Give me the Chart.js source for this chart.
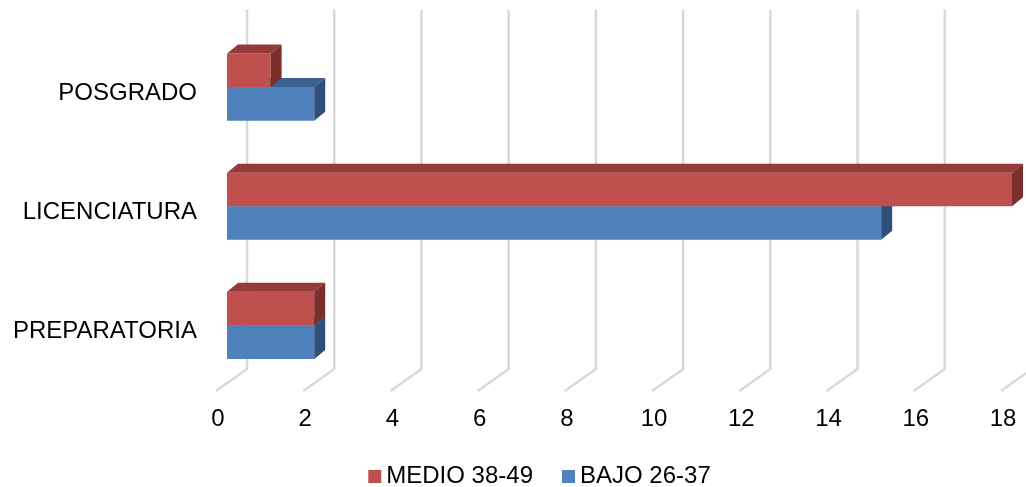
<!DOCTYPE html>
<html>
<head>
<meta charset="utf-8">
<script src="https://cdn.jsdelivr.net/npm/chart.js@4/dist/chart.umd.min.js"></script>
<style>
  html, body { margin: 0; padding: 0; background: #ffffff; }
  canvas { display: block; }
</style>
</head>
<body>
<canvas id="chart" width="1026" height="487"></canvas>
<script>
// Education level by age group
const categories = ['POSGRADO', 'LICENCIATURA', 'PREPARATORIA'];
const seriesNames = ['MEDIO 38-49', 'BAJO 26-37'];
const medioValues = [1, 18, 2];
const bajoValues = [2, 15, 2];
const xMin = 0;
const xMax = 18;
const xStep = 2;

const FONT = "'Liberation Sans', Arial, sans-serif";

// Depth of the extruded bar faces and of the floor grid
const BAR_DX = 11, BAR_DY = -9;
const WALL_DX = 20;     // back wall offset from the front plane
const FLOOR_DX = -31;   // slant of the floor lines towards the viewer
const FLOOR_DY = 22;

// Back-wall grid lines with the slanted floor segment
const grid3d = {
  id: 'grid3d',
  beforeDatasetsDraw(chart) {
    const { ctx, chartArea, scales } = chart;
    const xs = scales.x;
    ctx.save();
    ctx.strokeStyle = '#d9d9d9';
    ctx.lineWidth = 2.5;
    ctx.lineJoin = 'round';
    for (let v = xMin; v <= xMax; v += xStep) {
      const bx = xs.getPixelForValue(v) + WALL_DX;
      const yTop = chartArea.top - 18;
      const yBottom = chartArea.bottom - 16;
      ctx.beginPath();
      ctx.moveTo(bx, yTop);
      ctx.lineTo(bx, yBottom);
      ctx.lineTo(bx + FLOOR_DX, yBottom + FLOOR_DY);
      ctx.stroke();
    }
    ctx.restore();
  }
};

// Top and side faces for each bar
const bars3d = {
  id: 'bars3d',
  afterDatasetDraw(chart, args) {
    const { ctx } = chart;
    const ds = chart.data.datasets[args.index];
    ctx.save();
    args.meta.data.forEach(bar => {
      const { x, y, base, height } = bar.getProps(['x', 'y', 'base', 'height'], true);
      const top = y - height / 2;
      const bottom = y + height / 2;
      ctx.fillStyle = ds.topColor;
      ctx.beginPath();
      ctx.moveTo(base, top);
      ctx.lineTo(x, top);
      ctx.lineTo(x + BAR_DX, top + BAR_DY);
      ctx.lineTo(base + BAR_DX, top + BAR_DY);
      ctx.closePath();
      ctx.fill();
      ctx.fillStyle = ds.sideColor;
      ctx.beginPath();
      ctx.moveTo(x, top);
      ctx.lineTo(x + BAR_DX, top + BAR_DY);
      ctx.lineTo(x + BAR_DX, bottom + BAR_DY);
      ctx.lineTo(x, bottom);
      ctx.closePath();
      ctx.fill();
    });
    ctx.restore();
  }
};

// Legend row under the axis: small square swatch, tight gap, then the series name
const legendRow = {
  id: 'legendRow',
  afterDraw(chart) {
    const { ctx } = chart;
    const box = 13, textGap = 5, itemGap = 29;
    const centerX = 539.5, midY = 476;
    ctx.save();
    ctx.font = '24px ' + FONT;
    ctx.textBaseline = 'middle';
    const items = chart.data.datasets.map(ds => ({
      text: ds.label, color: ds.backgroundColor, w: ctx.measureText(ds.label).width
    }));
    const total = items.reduce((s, it) => s + box + textGap + it.w, 0) + itemGap * (items.length - 1);
    let x = centerX - total / 2;
    items.forEach(it => {
      ctx.fillStyle = it.color;
      ctx.fillRect(x, midY - 6, box, box);
      x += box + textGap;
      ctx.fillStyle = '#000000';
      ctx.fillText(it.text, x, midY);
      x += it.w + itemGap;
    });
    ctx.restore();
  }
};

new Chart(document.getElementById('chart'), {
  type: 'bar',
  data: {
    labels: categories,
    datasets: [
      {
        label: seriesNames[0],
        data: medioValues,
        backgroundColor: '#c0504d',
        topColor: '#933b39',
        sideColor: '#7b2f2d',
        clip: false
      },
      {
        label: seriesNames[1],
        data: bajoValues,
        backgroundColor: '#4f81bd',
        topColor: '#3b618f',
        sideColor: '#2f4f78',
        clip: false
      }
    ]
  },
  options: {
    indexAxis: 'y',
    responsive: false,
    devicePixelRatio: 1,
    animation: false,
    categoryPercentage: 0.563,
    barPercentage: 1,
    layout: { padding: { top: 27.5, right: 14, left: 0, bottom: 61 } },
    scales: {
      x: {
        min: xMin,
        max: xMax,
        grid: { display: false },
        border: { display: false },
        ticks: {
          stepSize: xStep,
          color: '#000000',
          font: { family: FONT, size: 24 },
          labelOffset: -9,
          padding: 12,
          maxRotation: 0
        },
        afterFit(scale) {
          scale.height = 41;
          scale.paddingLeft = 0;
          scale.paddingRight = 0;
        }
      },
      y: {
        grid: { display: false },
        border: { display: false },
        ticks: {
          color: '#000000',
          font: { family: FONT, size: 24 },
          padding: 22,
          labelOffset: 6
        },
        afterFit(scale) {
          scale.width = 227;
          scale.paddingTop = 0;
          scale.paddingBottom = 0;
        }
      }
    },
    plugins: {
      legend: { display: false },
      tooltip: { enabled: false }
    }
  },
  plugins: [grid3d, bars3d, legendRow]
});
</script>
</body>
</html>
